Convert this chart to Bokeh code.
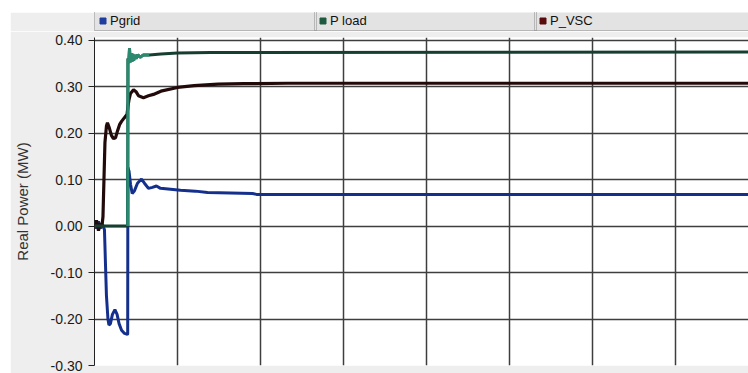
import numpy as np
from bokeh.plotting import figure
from bokeh.layouts import column
from bokeh.models import (ColumnDataSource, Range1d, FixedTicker, NumeralTickFormatter,
                          Legend, LegendItem)
from bokeh.embed import file_html
from bokeh.resources import INLINE

# Real power traces (MW) against simulation time (s)
t_grid = [0.000, 0.012, 0.024, 0.036, 0.048, 0.060, 0.066, 0.072, 0.081, 0.087,
          0.096, 0.108, 0.123, 0.136, 0.148, 0.163, 0.181, 0.198, 0.200, 0.201,
          0.208, 0.217, 0.227, 0.241, 0.259, 0.283, 0.301, 0.325, 0.349, 0.373,
          0.398, 0.458, 0.518, 0.608, 0.681, 0.819, 0.952, 0.976, 3.940]
p_grid = [0.005, -0.005, 0.010, -0.005, 0.004, -0.008, -0.080, -0.150, -0.200, -0.213,
          -0.210, -0.190, -0.180, -0.190, -0.210, -0.224, -0.231, -0.233, -0.232, 0.126,
          0.118, 0.090, 0.070, 0.076, 0.092, 0.101, 0.092, 0.081, 0.083, 0.086,
          0.081, 0.079, 0.077, 0.075, 0.072, 0.071, 0.070, 0.068, 0.068]

t_load = [0.000, 0.200, 0.2015, 0.206, 0.211, 0.215, 0.220, 0.225, 0.230, 0.236,
          0.242, 0.250, 0.260, 0.275, 0.295, 0.330, 0.400, 0.500, 0.700, 3.940]
p_load = [0.000, 0.000, 0.360, 0.350, 0.382, 0.352, 0.372, 0.353, 0.370, 0.356,
          0.368, 0.360, 0.368, 0.363, 0.368, 0.368, 0.370, 0.372, 0.373, 0.374]

t_vsc = [0.000, 0.012, 0.024, 0.036, 0.045, 0.051, 0.057, 0.063, 0.072, 0.078,
         0.090, 0.102, 0.114, 0.127, 0.139, 0.151, 0.163, 0.178, 0.187, 0.196,
         0.202, 0.208, 0.217, 0.235, 0.252, 0.265, 0.295, 0.325, 0.355, 0.400,
         0.500, 0.600, 0.744, 0.900, 1.163, 3.940]
p_vsc = [0.000, 0.012, -0.010, 0.006, 0.000, 0.020, 0.100, 0.180, 0.215, 0.222,
         0.210, 0.195, 0.188, 0.190, 0.205, 0.218, 0.225, 0.232, 0.236, 0.240,
         0.258, 0.272, 0.285, 0.293, 0.288, 0.280, 0.276, 0.280, 0.283, 0.290,
         0.298, 0.302, 0.305, 0.306, 0.307, 0.307]

series_names = ["Pgrid", "P load", "P_VSC"]
series_colors = ["#1f3c9e", "#1f5a40", "#5a0b0b"]

y_ticks = [-0.30, -0.20, -0.10, 0.00, 0.10, 0.20, 0.30, 0.40]
x_grid = [0.5, 1.0, 1.5, 2.0, 2.5, 3.0, 3.5]

FONT = "Liberation Sans"
PANEL = "#eeeeee"

# ---- header strip with the three series keys ----
head = figure(width=738, height=19, output_backend="svg", toolbar_location=None,
              title=None, x_range=Range1d(0, 1), y_range=Range1d(0, 1),
              min_border_left=84, min_border_right=0, min_border_top=0, min_border_bottom=0)
head.margin = (12, 0, 0, 10)
head.axis.visible = False
head.grid.visible = False
head.outline_line_color = None
head.border_fill_color = PANEL
head.background_fill_color = "#e3e3e3"

key_offsets = [0, 220, 440]
for name, col, off in zip(series_names, series_colors, key_offsets):
    # key-only marker: a single undefined point, so only the legend swatch shows
    key_src = ColumnDataSource(dict(x=np.array([np.nan]), y=np.array([np.nan])))
    r = head.scatter("x", "y", source=key_src, marker="square", size=6,
                     fill_color=col, line_color=col)
    head.add_layout(Legend(items=[LegendItem(label=name, renderers=[r])],
                           location=(off, 0), orientation="horizontal",
                           margin=0, padding=0, spacing=0,
                           glyph_width=15, glyph_height=19, label_height=19,
                           label_width=206, label_standoff=-1,
                           label_text_font=FONT, label_text_font_size="13px",
                           label_text_color="#111111",
                           background_fill_alpha=0,
                           border_line_color="#8a8a8a", border_line_width=1))

# ---- main plot ----
p = figure(width=738, height=342, output_backend="svg", toolbar_location=None,
           title=None, x_range=Range1d(0, 3.94), y_range=Range1d(-0.30, 0.4054),
           min_border_left=84, min_border_right=0, min_border_top=6, min_border_bottom=8)
p.margin = (0, 0, 0, 10)
p.border_fill_color = PANEL
p.background_fill_color = "white"
p.outline_line_color = None

# grid (the -0.30 grid line closes the bottom of the plot area)
p.xaxis.visible = False
p.xgrid.ticker = FixedTicker(ticks=x_grid)
p.yaxis.ticker = FixedTicker(ticks=y_ticks)
for g in (p.xgrid, p.ygrid):
    g.grid_line_color = "#3e3e3e"
    g.grid_line_width = 1.5

# y axis
p.yaxis.formatter = NumeralTickFormatter(format="0.00")
p.yaxis.axis_label = "Real Power (MW)"
p.yaxis.axis_label_text_font = FONT
p.yaxis.axis_label_text_font_style = "normal"
p.yaxis.axis_label_text_font_size = "15px"
p.yaxis.axis_label_text_color = "#333333"
p.yaxis.axis_label_standoff = 17
p.yaxis.major_label_text_font = FONT
p.yaxis.major_label_text_font_size = "14px"
p.yaxis.major_label_text_color = "#1a1a1a"
p.yaxis.major_label_standoff = 6
p.yaxis.major_tick_out = 6
p.yaxis.major_tick_in = 0
p.yaxis.minor_tick_line_color = None
p.yaxis.axis_line_color = "#222222"
p.yaxis.major_tick_line_color = "#222222"

# traces
src_grid = ColumnDataSource(dict(t=t_grid, p=p_grid))
src_load = ColumnDataSource(dict(t=t_load, p=p_load))
src_vsc = ColumnDataSource(dict(t=t_vsc, p=p_vsc))
# load transient right after switching, shown in a lighter tone
src_load_tr = ColumnDataSource(dict(t=t_load[1:16], p=p_load[1:16]))

p.line("t", "p", source=src_grid, line_color="#15308c", line_width=3)
p.line("t", "p", source=src_vsc, line_color="#220a0a", line_width=3.2)
p.line("t", "p", source=src_load, line_color="#173f30", line_width=3)
p.line("t", "p", source=src_load_tr, line_color="#2a8a70", line_width=3)

layout = column(head, p, spacing=0)
open("out.html", "w").write(file_html(layout, INLINE))
